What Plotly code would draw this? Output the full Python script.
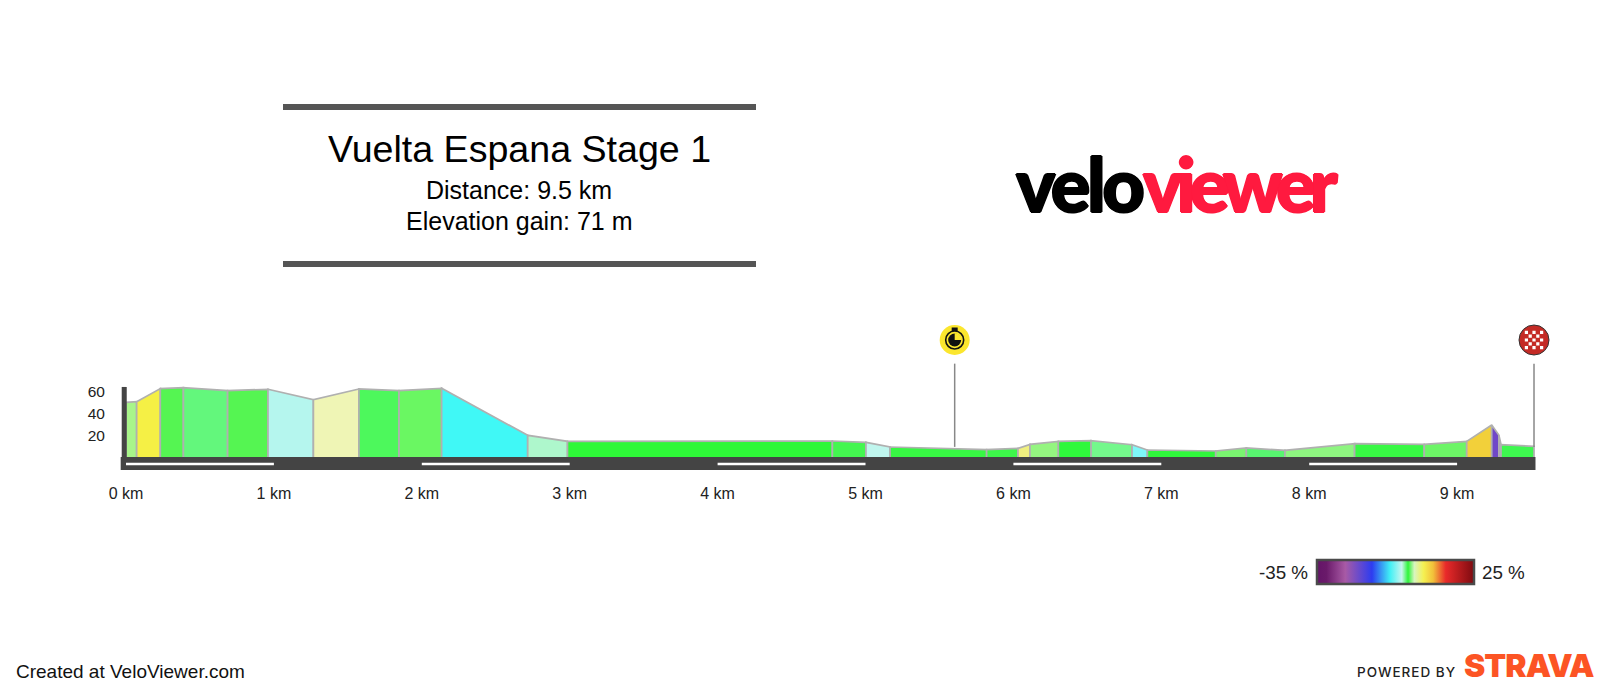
import plotly.graph_objects as go

# profile points, distance in km and elevation in m
km = [0, 0.072, 0.232, 0.388, 0.687, 0.960, 1.267, 1.575, 1.846, 2.134, 2.716,
      2.985, 4.776, 5.003, 5.166, 5.819, 6.031, 6.112, 6.304, 6.525, 6.802,
      6.906, 7.368, 7.575, 7.836, 8.307, 8.778, 9.065, 9.234, 9.283, 9.297, 9.52]
elev = [50.2, 50.7, 62.5, 63.4, 60.7, 61.9, 52.6, 62.2, 60.7, 62.8, 20.4,
        15.0, 15.3, 14.1, 9.9, 7.5, 8.7, 12.3, 15.0, 15.6, 12.0,
        7.2, 6.3, 9.0, 6.9, 12.9, 12.3, 15.0, 29.7, 20.4, 12.0, 10.5]
seg_colors = ['#a8f58a', '#f5f045', '#55f552', '#63f77c', '#55f552', '#b5f6ee',
              '#eff5b5', '#4df85c', '#6af762', '#40f8f6', '#aef7cc', '#2ef838',
              '#44f650', '#c0f6ee', '#38f744', '#3df74a', '#f0f080', '#94f580',
              '#2ff83c', '#74f88c', '#7df8f8', '#30f73c', '#7af570', '#58f570',
              '#8ef580', '#38f844', '#6cf566', '#f2d03a', '#7048c8', '#9a8ad0',
              '#3ef74f']

km_ticks = [0, 1, 2, 3, 4, 5, 6, 7, 8, 9]
km_labels = ['0 km', '1 km', '2 km', '3 km', '4 km', '5 km', '6 km', '7 km', '8 km', '9 km']
elev_ticks = [20, 40, 60]
stripes = [(0, 1), (2, 3), (4, 5), (6, 7), (8, 9)]

timer_km = 5.603
finish_km = 9.52

grade_scale = [[0, '#641468'], [0.06, '#6a1a6a'], [0.18, '#a85aa5'], [0.35, '#2d3cf0'], [0.465, '#40f0f5'],
               [0.54, '#c8f5ee'], [0.58, '#2ef53a'], [0.62, '#d8f5c0'], [0.68, '#f5f050'],
               [0.74, '#f2c03a'], [0.82, '#e92a2a'], [1, '#7d0a10']]

W = 1602
H = 690
X0 = 126      # pixel of 0 km
PX_KM = 147.9
Y0 = 458      # pixel of 0 m
PX_M = 1.11


def px(x):
    return x / W


def py(y):
    return 1 - y / H


fig = go.Figure()

# one filled polygon per gradient segment
for i in range(len(seg_colors)):
    fig.add_trace(go.Scatter(
        x=[km[i], km[i], km[i + 1], km[i + 1], km[i]],
        y=[0, elev[i], elev[i + 1], 0, 0],
        mode='lines', fill='toself', fillcolor=seg_colors[i],
        line=dict(color='#b0b0b0', width=1.7), hoverinfo='skip'))

# flag poles
for k in [timer_km, finish_km]:
    fig.add_trace(go.Scatter(x=[k, k], y=[10, 85], mode='lines',
                             line=dict(color='#888888', width=1.5), hoverinfo='skip'))

# icons
icon_y = (Y0 - 340) / PX_M
fig.add_trace(go.Scatter(x=[timer_km], y=[icon_y], mode='markers',
                         marker=dict(size=30, color='#fbe62e', line=dict(width=0)), hoverinfo='skip'))
fig.add_trace(go.Scatter(x=[timer_km], y=[icon_y], mode='markers',
                         marker=dict(size=13, color='#111111', line=dict(width=0)), hoverinfo='skip'))
fig.add_trace(go.Scatter(x=[timer_km], y=[icon_y], mode='markers',
                         marker=dict(size=18, color='rgba(0,0,0,0)', line=dict(color='#111111', width=1.6)),
                         hoverinfo='skip'))
fig.add_trace(go.Scatter(x=[finish_km], y=[icon_y], mode='markers',
                         marker=dict(size=30, color='#c42a25', line=dict(color='#333333', width=1)),
                         hoverinfo='skip'))

# invisible trace, only here for the gradient legend
fig.add_trace(go.Scatter(
    x=[None], y=[None], mode='markers', hoverinfo='skip',
    marker=dict(color=[0], cmin=-35, cmax=25, colorscale=grade_scale, showscale=True,
                colorbar=dict(orientation='h', lenmode='pixels', len=157,
                              thicknessmode='pixels', thickness=24,
                              xanchor='left', x=px(1317), yanchor='top', y=py(560),
                              xpad=0, ypad=0, outlinecolor='#4a4a4a', outlinewidth=2.5,
                              showticklabels=False, ticks=''))))

shapes = []
# road and the little axis post
shapes.append(dict(type='rect', x0=-0.036, x1=9.53, y0=-10.8, y1=0.9,
                   fillcolor='#444444', line_width=0, layer='above'))
shapes.append(dict(type='rect', x0=-0.029, x1=0.005, y0=0, y1=64,
                   fillcolor='#444444', line_width=0, layer='above'))
for a, b in stripes:
    shapes.append(dict(type='rect', x0=a, x1=b, y0=-6.6, y1=-4.2,
                       fillcolor='#ffffff', line_width=0, layer='above'))

# title rules
for y in [107, 264]:
    shapes.append(dict(type='rect', xref='paper', yref='paper', x0=px(283), x1=px(756),
                       y0=py(y - 3), y1=py(y + 3), fillcolor='#555555', line_width=0))

# stopwatch wedge and crown, sized in pixels
shapes.append(dict(type='path', xsizemode='pixel', ysizemode='pixel', xanchor=timer_km, yanchor=icon_y,
                   path='M 0 0 L 0 7 L 3 6.3 L 5 5 L 6.3 3 L 7 0 Z', fillcolor='#fbe62e', line_width=0, layer='above'))
shapes.append(dict(type='path', xsizemode='pixel', ysizemode='pixel', xanchor=timer_km, yanchor=icon_y,
                   path='M -3 9 L -3 12.5 L 3 12.5 L 3 9 Z', fillcolor='#111111', line_width=0, layer='above'))

# finish flag checks
check = ''
step = 3.8
for row in range(5):
    for col in range(5):
        if (row + col) % 2 == 0:
            cx = (col - 2) * step
            cy = (row - 2) * step
            check += f'M {cx - 1.6} {cy - 1.6} L {cx + 1.6} {cy - 1.6} L {cx + 1.6} {cy + 1.6} L {cx - 1.6} {cy + 1.6} Z '
shapes.append(dict(type='path', xsizemode='pixel', ysizemode='pixel', xanchor=finish_km, yanchor=icon_y,
                   path=check, fillcolor='#ffffff', line_width=0, layer='above'))

BODY = 'Liberation Sans'
notes = [
    dict(text='Vuelta Espana Stage 1', x=519, y=149, size=37.6, xa='center', color='#000000', font=BODY),
    dict(text='Distance: 9.5 km', x=519, y=190, size=25, xa='center', color='#000000', font=BODY),
    dict(text='Elevation gain: 71 m', x=519, y=221, size=25, xa='center', color='#000000', font=BODY),
    dict(text='-35 %', x=1310, y=572, size=18.8, xa='right', color='#222222', font=BODY),
    dict(text='25 %', x=1480, y=572, size=18.8, xa='left', color='#222222', font=BODY),
    dict(text='Created at VeloViewer.com', x=13.5, y=671, size=19, xa='left', color='#111111', font=BODY),
]
annotations = []
for n in notes:
    annotations.append(dict(text=n['text'], xref='paper', yref='paper', x=px(n['x']), y=py(n['y']),
                            xanchor=n['xa'], yanchor='middle', showarrow=False,
                            font=dict(family=n['font'], size=n['size'], color=n['color'])))


def halo(c):
    return f'1px 0 {c}, -1px 0 {c}, 0 1px {c}, 0 -1px {c}'


# logos
annotations.append(dict(text='velo', xref='paper', yref='paper', x=px(1078.5), y=py(183), xanchor='center',
                        yanchor='middle', showarrow=False,
                        font=dict(family='Lato', size=74, color='#000000', weight=900, shadow=halo('#000000'))))
annotations.append(dict(text='viewer', xref='paper', yref='paper', x=px(1237.5), y=py(183), xanchor='center',
                        yanchor='middle', showarrow=False,
                        font=dict(family='Lato', size=74, color='#ff1a3f', weight=900, shadow=halo('#ff1a3f'))))
annotations.append(dict(text='POWERED BY', xref='paper', yref='paper', x=px(1407), y=py(672), xanchor='center',
                        yanchor='middle', showarrow=False,
                        font=dict(family='Inter', size=13.5, color='#222222', weight=500)))
annotations.append(dict(text='STRAVA', xref='paper', yref='paper', x=px(1528.5), y=py(665.5), xanchor='center',
                        yanchor='middle', showarrow=False,
                        font=dict(family='Inter', size=32, color='#fc5424', weight=900)))

fig.update_layout(
    width=W, height=H,
    margin=dict(l=0, r=0, t=0, b=0, autoexpand=False),
    paper_bgcolor='#ffffff', plot_bgcolor='#ffffff',
    showlegend=False,
    shapes=shapes, annotations=annotations,
    font=dict(family=BODY, color='#222222'),
)
fig.update_xaxes(
    range=[-X0 / PX_KM, (W - X0) / PX_KM],
    showgrid=False, zeroline=False, showline=False,
    tickmode='array', tickvals=km_ticks, ticktext=km_labels,
    ticks='outside', ticklen=9, tickcolor='rgba(0,0,0,0)',
    tickfont=dict(size=16, color='#222222'),
    anchor='free', position=py(470),
)
fig.update_yaxes(
    range=[(Y0 - H) / PX_M, Y0 / PX_M],
    showgrid=False, zeroline=False, showline=False,
    tickmode='array', tickvals=elev_ticks,
    ticks='outside', ticklen=13, tickcolor='rgba(0,0,0,0)',
    tickfont=dict(size=15.5, color='#222222'),
    anchor='free', position=px(121),
)

# plotly has no letter spacing option, so tighten the logo words after drawing
spacing = "var sp={'velo':'-3.5px','viewer':'-6px','POWERED BY':'1px','STRAVA':'-1px'};" \
          "document.body.style.margin='0';" \
          "document.querySelectorAll('.annotation-text').forEach(function(t){" \
          "if(sp[t.textContent]){t.style.letterSpacing=sp[t.textContent];}});"

fig.write_html('out.html', config=dict(displayModeBar=False), post_script=spacing)
